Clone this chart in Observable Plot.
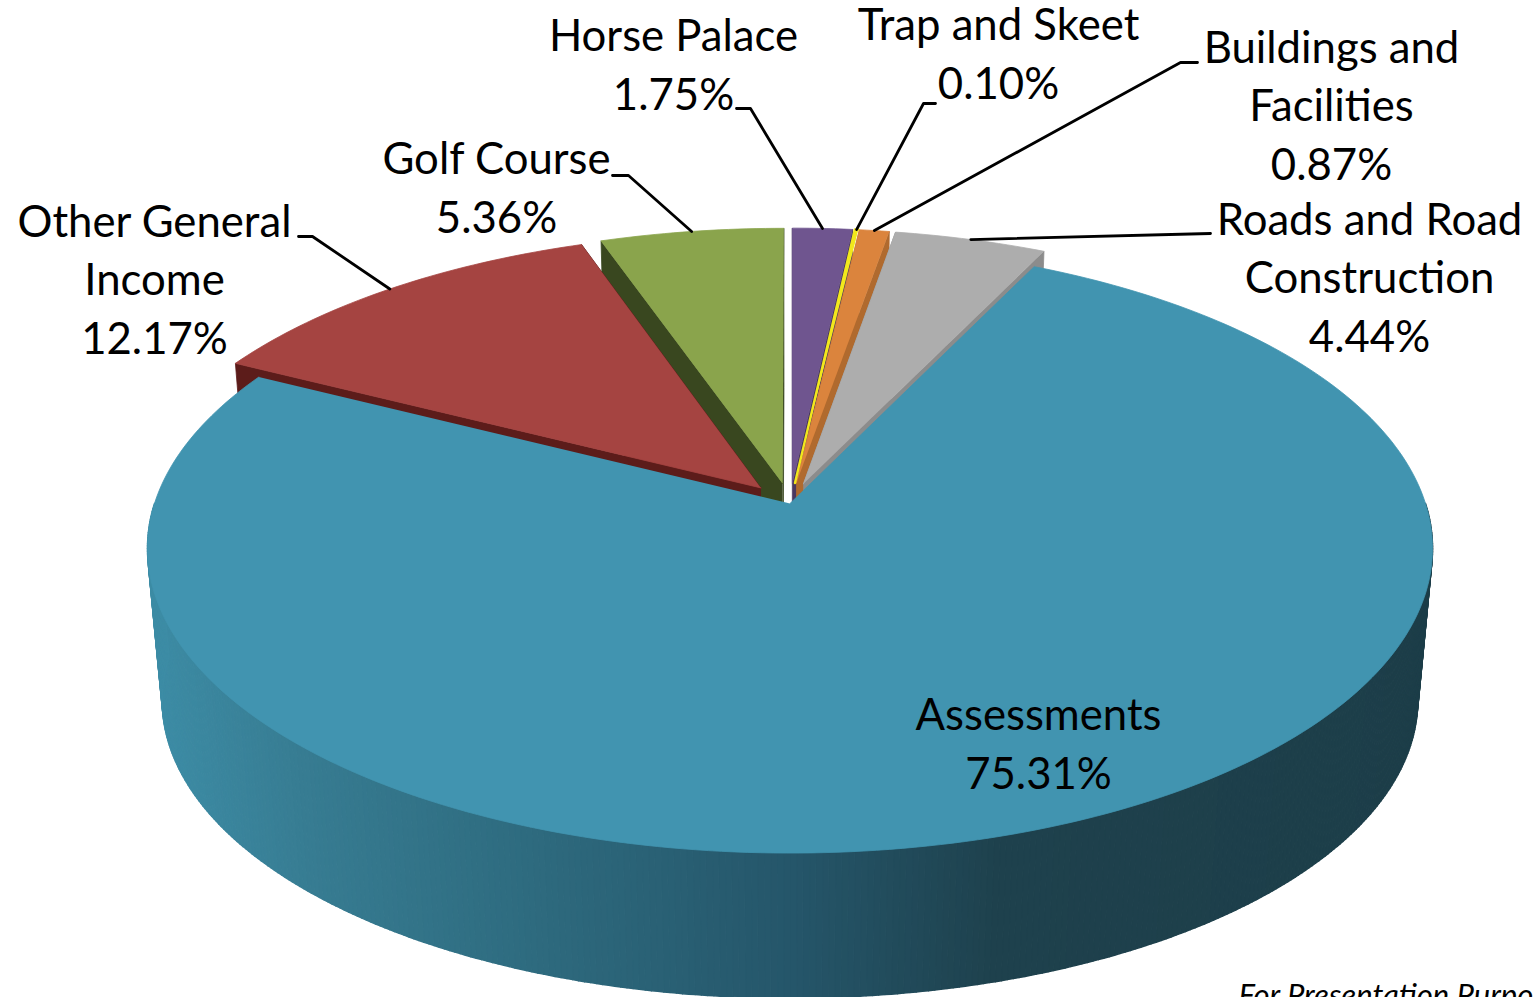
<!DOCTYPE html>
<html>
<head>
<meta charset="utf-8">
<style>html,body{margin:0;padding:0;background:#fff;overflow:hidden}svg{display:block}</style>
<script src="https://cdn.jsdelivr.net/npm/d3@7"></script>
<script src="https://cdn.jsdelivr.net/npm/@observablehq/plot@0.6"></script>
</head>
<body>
<div id="chart"></div>
<script>
// Values
const categories = ["Assessments","Other General Income","Golf Course","Horse Palace","Trap and Skeet","Buildings and Facilities","Roads and Road Construction"];
const percents = [75.31,12.17,5.36,1.75,0.10,0.87,4.44];
const labelLines = ["Assessments\n75.31%","Other General\nIncome\n12.17%","Golf Course\n5.36%","Horse Palace\n1.75%","Trap and Skeet\n0.10%","Buildings and\nFacilities\n0.87%","Roads and Road\nConstruction\n4.44%"];
const topColors = ["#4194b0","#a54441","#8aa44c","#6f558f","#f2e81c","#db843d","#adadad"];
const sideColors = ["#1d3e49","#5c1c1a","#39471f","#4a3860","#a09a10","#b06a2e","#8c8c8c"];
const caption = "For Presentation Purpo";

// Presentation layout (not data)
const labelX = [1038,154,496,673,998,1331,1369];
const labelY = [740,276,184,61,50,102,274];
const elbows = [null,[[312,236],[298,236]],[[628,175],[612,175]],[[750,108],[736,108]],[[923,103],[935,103]],[[1180,62],[1197,62]],[[1210,233]]];
const firstAngle = 25.8, explode = 0.07, persp = 0.1475;
const planes = {top:{s:1,y0:503}, bottom:{s:0.977,y0:656}};
const drawOrder = [2,1,3,5,6,4];
const rad = d => d*Math.PI/180;

function project(X,Y,plane){
  const w = 1+persp*Y;
  return {x:789.5+plane.s*635.5*X/w, y:plane.y0-plane.s*298*Y/w};
}
let cum = firstAngle;
const slices = percents.map((p,i)=>{
  const a0=cum, a1=cum+p*3.6; cum=a1;
  const mid=(a0+a1)/2, d=i===0?0:explode;
  return {i,a0,a1,mid,dx:d*Math.sin(rad(mid)),dy:d*Math.cos(rad(mid))};
});
const rim=(s,a,plane)=>project(Math.sin(rad(a))+s.dx,Math.cos(rad(a))+s.dy,plane);
const apex=(s,plane)=>project(s.dx,s.dy,plane);
function arc(s,plane){
  const n=Math.max(2,Math.ceil(s.a1-s.a0)), out=[];
  for(let j=0;j<=n;j++) out.push(rim(s,s.a0+(s.a1-s.a0)*j/n,plane));
  return out;
}
const polys=[]; let pid=0;
const addPoly=(pts,fill,sw=0.8)=>{const id=pid++; for(const p of pts) polys.push({id,fill,sw,x:p.x,y:p.y});};

const wallShade=d3.scaleLinear()
  .domain([150,300,500,790,1000,1440])
  .range(["#3d8ca5","#377c92","#2f6d81","#25566a","#1e414d","#1d3e49"])
  .interpolate(d3.interpolateRgb);

// exploded slices, back to front
for(const i of drawOrder){
  const s=slices[i];
  if(i!==4) for(const a of [s.a0,s.a1]){
    addPoly([apex(s,planes.top),rim(s,a,planes.top),rim(s,a,planes.bottom),apex(s,planes.bottom)],sideColors[i]);
  }
  addPoly([apex(s,planes.top),...arc(s,planes.top)],topColors[i],i===4?2.4:0.8);
}
// main slice outer wall in narrow shaded strips, then its top
const main=slices[0];
for(let a=90;a<270;a+=0.5){
  const t0=rim(main,a,planes.top),t1=rim(main,a+0.5,planes.top),b1=rim(main,a+0.5,planes.bottom),b0=rim(main,a,planes.bottom);
  addPoly([t0,t1,b1,b0],wallShade((t0.x+t1.x)/2),1.5);
}
addPoly([apex(main,planes.top),...arc(main,planes.top)],topColors[0]);

// leader lines start at the middle of each slice's outer arc
const leaders=[];
slices.forEach(s=>{
  if(!elbows[s.i]) return;
  const st=rim(s,s.mid,planes.top);
  [st,...elbows[s.i].map(e=>({x:e[0],y:e[1]}))].forEach(p=>leaders.push({id:s.i,x:p.x,y:p.y}));
});
const labels=categories.map((c,i)=>({text:labelLines[i],x:labelX[i],y:labelY[i]}));

const chart=Plot.plot({
  width:1536,height:997,margin:0,
  style:{background:"#fff"},
  x:{axis:null,domain:[0,1536],range:[0,1536]},
  y:{axis:null,domain:[0,997],range:[0,997]},
  marks:[
    Plot.line(polys,{x:"x",y:"y",z:"id",fill:"fill",stroke:"fill",strokeWidth:"sw",strokeLinejoin:"round"}),
    Plot.line(leaders,{x:"x",y:"y",z:"id",stroke:"#000",strokeWidth:2.8}),
    Plot.text(labels,{x:"x",y:"y",text:"text",fill:"#000",fontFamily:"Lato",fontSize:43.7,lineHeight:1.34,textAnchor:"middle",lineAnchor:"middle"}),
    Plot.text([caption],{x:1238,y:1005,text:d=>d,fill:"#000",fontFamily:"Lato",fontStyle:"italic",fontSize:31,textAnchor:"start",lineAnchor:"bottom"})
  ]
});
document.getElementById("chart").appendChild(chart);
</script>
</body>
</html>
